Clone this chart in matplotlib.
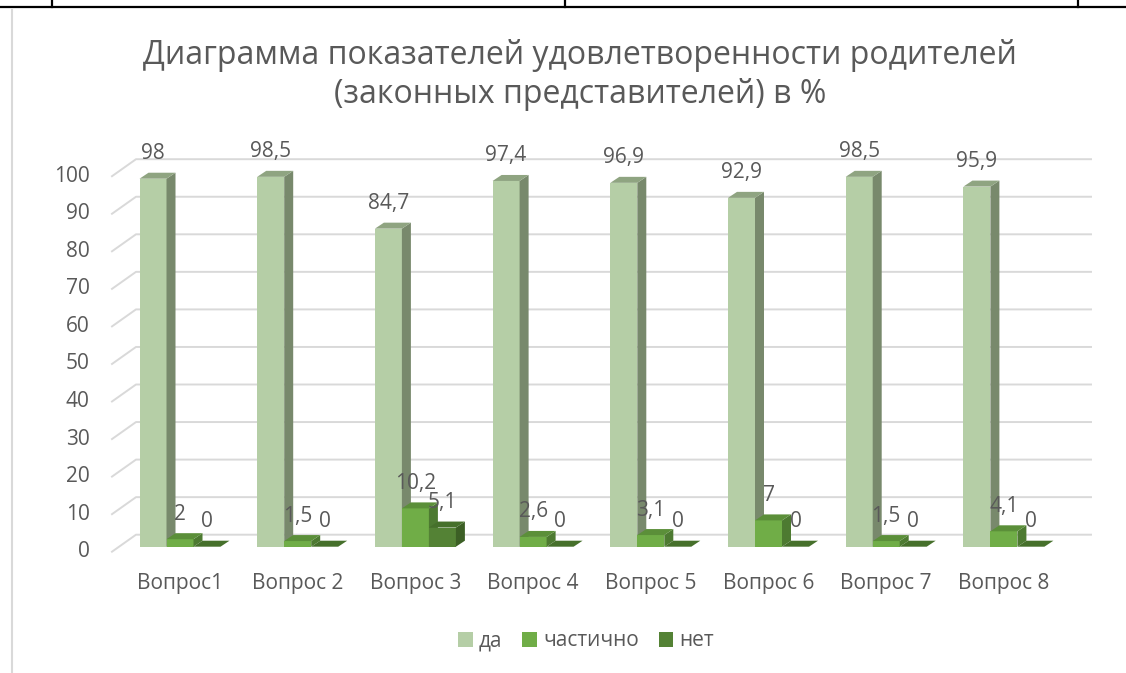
import matplotlib
matplotlib.use("Agg")
import matplotlib.pyplot as plt
from matplotlib.patches import Polygon, Patch
from matplotlib.lines import Line2D

plt.rcParams['font.family'] = ['Open Sans', 'DejaVu Sans']

# data
questions = ['Вопрос1', 'Вопрос 2', 'Вопрос 3', 'Вопрос 4',
             'Вопрос 5', 'Вопрос 6', 'Вопрос 7', 'Вопрос 8']
series_names = ['да', 'частично', 'нет']
da = [98, 98.5, 84.7, 97.4, 96.9, 92.9, 98.5, 95.9]
chastichno = [2, 1.5, 10.2, 2.6, 3.1, 7, 1.5, 4.1]
net = [0, 0, 5.1, 0, 0, 0, 0, 0]
yticks = list(range(0, 101, 10))

# colours: front, side, top
colors = [('#b5cea6', '#78896c', '#8fa481'),
          ('#70ad47', '#4d7a31', '#5b8f39'),
          ('#548235', '#3c5f25', '#46702b')]
txt = '#595959'
grid = '#d9d9d9'

W, H = 1126, 673
fig = plt.figure(figsize=(W / 100, H / 100), dpi=100)

# axes = plane in which the bar fronts stand (pixel based placement)
left_px, right_px = 119, 1074
base_px, top_px = 546.7, 171.2
ax = fig.add_axes([left_px / W, 1 - base_px / H,
                   (right_px - left_px) / W, (base_px - top_px) / H])
grp_px = 117.7
x0_px = 180
ax.set_xlim((left_px - x0_px) / grp_px, (right_px - x0_px) / grp_px)
ax.set_ylim(0, 100)
ax.axis('off')
fig.canvas.draw()


def pix(x, y, dx=0, dy=0):
    px, py = ax.transData.transform((x, y))
    return ax.transData.inverted().transform((px + dx, py + dy))


def ddata(dx, dy):
    a = pix(0, 0)
    b = pix(0, 0, dx, dy)
    return b[0] - a[0], b[1] - a[1]


# offsets in pixels (display y upward)
front = (-7, -5)
back = (17, 12)
bdx, bdy = ddata(9, 6)

xl, xr = ax.get_xlim()
for v in yticks:
    fx, fy = pix(xl, v, *front)
    bx, by = pix(xl, v, *back)
    ex, ey = pix(xr, v, *back)
    ax.add_line(Line2D([fx, bx, ex], [fy, by, ey], color=grid, lw=1.4,
                       clip_on=False, zorder=1))
    ax.text(fx - 0.19, fy, str(v), ha='right', va='center', fontsize=15,
            color=txt)

w = 27 / grp_px
series = [da, chastichno, net]
for i in range(len(questions)):
    for k, vals in enumerate(series):
        h = vals[i]
        x = i + (k - 1) * w - w / 2
        fc, sc, tc = colors[k]
        ax.add_patch(Polygon([(x, 0), (x + w, 0), (x + w, h), (x, h)],
                             closed=True, fc=fc, ec='none', clip_on=False, zorder=3))
        ax.add_patch(Polygon([(x + w, 0), (x + w + bdx, bdy),
                              (x + w + bdx, h + bdy), (x + w, h)],
                             closed=True, fc=sc, ec='none', clip_on=False, zorder=3))
        ax.add_patch(Polygon([(x, h), (x + w, h), (x + w + bdx, h + bdy),
                              (x + bdx, h + bdy)],
                             closed=True, fc=tc, ec='none', clip_on=False, zorder=3))
        lbl = ('%g' % h).replace('.', ',')
        lx, ly = pix(x + w / 2, h, 0, 25)
        ax.text(lx, ly, lbl, ha='center', va='center', fontsize=15,
                color=txt, zorder=5)
    cx, cy = pix(i, 0, 0, -37)
    ax.text(cx, cy, questions[i], ha='center', va='center', fontsize=15,
            color=txt)

fig.text(580 / W, 1 - 64 / H, 'Диаграмма показателей удовлетворенности родителей',
         ha='center', va='baseline', fontsize=23, color=txt)
fig.text(580 / W, 1 - 103 / H, '(законных представителей) в %',
         ha='center', va='baseline', fontsize=23, color=txt)

handles = [Patch(fc=c[0], ec='none') for c in colors]
fig.legend(handles, series_names, loc='center', bbox_to_anchor=(586 / W, 1 - 641 / H),
           ncol=3, frameon=False, fontsize=15, handlelength=0.7, handleheight=0.7,
           handletextpad=0.3, columnspacing=0.95, labelcolor=txt)

# page borders around the chart
fig.add_artist(Line2D([0, 1], [1 - 6.5 / H] * 2, color='black', lw=1.6))
for xp in [52, 565, 1078]:
    fig.add_artist(Line2D([xp / W] * 2, [1, 1 - 6.5 / H], color='black', lw=1.6))
fig.add_artist(Line2D([12 / W] * 2, [1 - 10 / H, 0], color=grid, lw=1.5))

fig.savefig('out.png', dpi=100)
